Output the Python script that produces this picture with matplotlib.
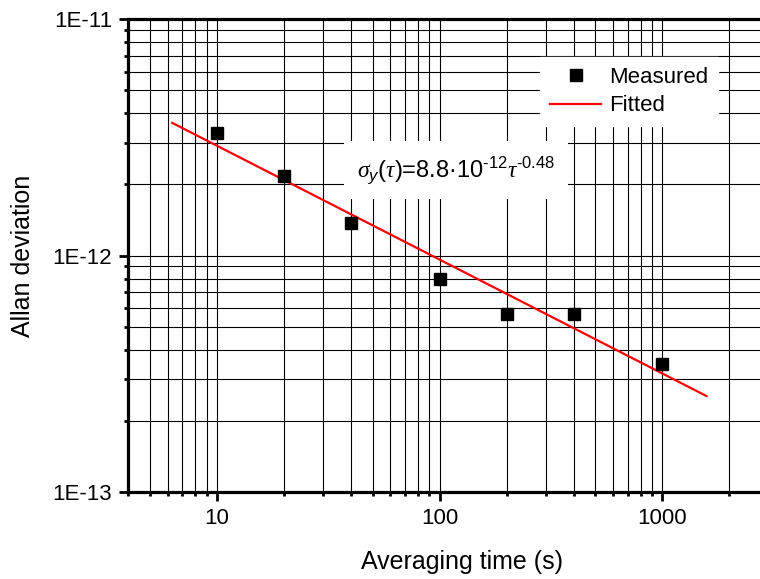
import numpy as np
import matplotlib
matplotlib.use("Agg")
import matplotlib.pyplot as plt
from matplotlib.ticker import FixedLocator, FixedFormatter, LogLocator, NullFormatter

plt.rcParams["font.family"] = ["Liberation Sans", "DejaVu Sans"]
plt.rcParams["mathtext.fontset"] = "custom"
plt.rcParams["mathtext.rm"] = "Liberation Sans"
plt.rcParams["mathtext.it"] = "Liberation Sans:italic"
plt.rcParams["mathtext.cal"] = "Liberation Serif:italic"

# measured Allan deviation
tau = [10, 20, 40, 100, 200, 400, 1000]
adev = [3.31e-12, 2.17e-12, 1.37e-12, 8.0e-13, 5.65e-13, 5.65e-13, 3.5e-13]

# fitted power law line (end points)
fit_tau = [6.3, 1580]
fit_adev = [3.64e-12, 2.55e-13]

xticks = [10, 100, 1000]
xticklabels = ["10", "100", "1000"]
yticks = [1e-13, 1e-12, 1e-11]
yticklabels = ["1E-13", "1E-12", "1E-11"]

fig = plt.figure(figsize=(7.6, 5.79), dpi=100)
W, H = 760, 579
# axes extends past the right edge of the image, as in the original
ax = fig.add_axes([128.3 / W, (H - 492.3) / H, (796.4 - 128.3) / W, (492.3 - 19) / H])

ax.set_xscale("log"); ax.set_yscale("log")
ax.set_xlim(4, 4000)
ax.set_ylim(1e-13, 1e-11)

ax.plot(fit_tau, fit_adev, color="red", lw=1.6, label="Fitted", zorder=3)
ax.plot(tau, adev, ls="none", marker="s", ms=8, color="black", label="Measured", zorder=4)

ax.xaxis.set_major_locator(FixedLocator(xticks))
ax.xaxis.set_major_formatter(FixedFormatter(xticklabels))
ax.xaxis.set_minor_locator(LogLocator(base=10, subs=np.arange(2, 10)))
ax.xaxis.set_minor_formatter(NullFormatter())
ax.yaxis.set_major_locator(FixedLocator(yticks))
ax.yaxis.set_major_formatter(FixedFormatter(yticklabels))
ax.yaxis.set_minor_locator(LogLocator(base=10, subs=np.arange(2, 10)))
ax.yaxis.set_minor_formatter(NullFormatter())

ax.grid(True, which="both", color="black", lw=0.8)
ax.set_axisbelow(True)

for s in ax.spines.values():
    s.set_linewidth(2.3)
ax.tick_params(which="major", direction="out", length=6.5, width=2, labelsize=16, pad=5,
               top=False, right=False)
ax.tick_params(which="minor", direction="out", length=3, width=2, top=False, right=False)

ax.set_xlabel("Averaging time (s)", fontsize=18, labelpad=15)
ax.set_ylabel("Allan deviation", fontsize=18, labelpad=13)

handles, labels = ax.get_legend_handles_labels()
leg = ax.legend(handles[::-1], labels[::-1], loc="upper left",
                bbox_to_anchor=(540 / W, 1 - 57 / H), bbox_transform=fig.transFigure,
                fontsize=16, frameon=True, fancybox=False, borderaxespad=0,
                borderpad=0.45, handlelength=2.3, handletextpad=0.35, labelspacing=0.33)
leg.get_frame().set_facecolor("white")
leg.get_frame().set_edgecolor("white")
leg.get_frame().set_alpha(1)

# sigma and tau drawn as serif italic greek, the rest sans
ax.text(0.4905, 0.681,
        r"$\mathcal{\sigma}_{y}(\mathcal{\tau})$=8.8·10$^{\text{-12}}\mathcal{\tau}^{\text{-0.48}}$",
        transform=ax.transAxes, ha="center", va="center", fontsize=17, zorder=5,
        bbox=dict(boxstyle="square,pad=0.55", facecolor="white", edgecolor="none"))

fig.savefig("out.png", dpi=100)
